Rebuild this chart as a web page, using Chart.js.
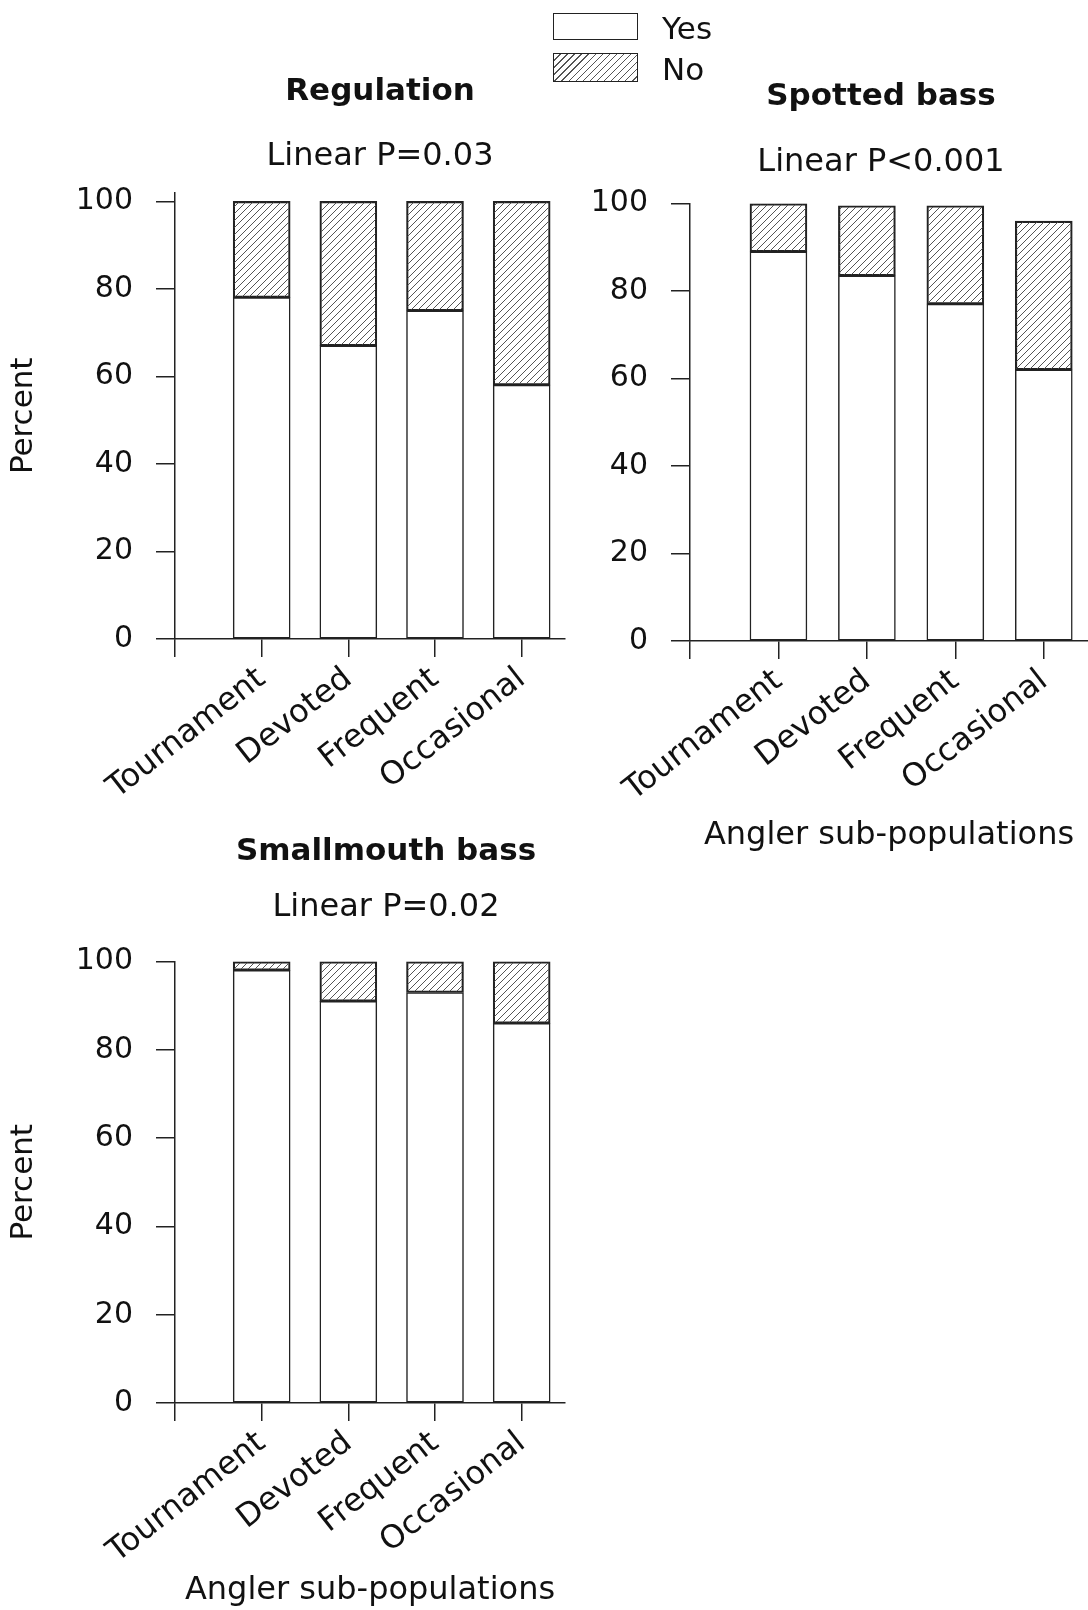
<!DOCTYPE html>
<html>
<head>
<meta charset="utf-8">
<script src="https://cdn.jsdelivr.net/npm/chart.js@4.4.1/dist/chart.umd.min.js"></script>
<style>
body{margin:0;background:#fff;width:1088px;height:1610px;position:relative;overflow:hidden;font-family:'DejaVu Sans',sans-serif;color:#111}
canvas{position:absolute}
#legend{position:absolute;left:553px;top:13px}
.key{position:absolute;left:0;width:85px;border:1.5px solid #222;box-sizing:border-box;background:#fff}
.key.no{background:repeating-linear-gradient(135deg,#fff 0 4px,#555 4px 5px)}
.lbl{position:absolute;left:109px;font-size:31px;line-height:31px;white-space:nowrap}
</style>
</head>
<body>
<canvas id="c1" width="580" height="800" style="left:0;top:0"></canvas>
<canvas id="c2" width="508" height="870" style="left:580px;top:0"></canvas>
<canvas id="c3" width="580" height="820" style="left:0;top:790px"></canvas>
<div id="legend">
  <div class="key" style="top:0;height:27px"></div>
  <div class="key no" style="top:40px;height:29px"></div>
  <div class="lbl" style="top:0">Yes</div>
  <div class="lbl" style="top:41px">No</div>
</div>
<script>
// Data
const categories = ['Tournament', 'Devoted', 'Frequent', 'Occasional'];
const regulationYes = [78, 67, 75, 58];
const regulationNo = [22, 33, 25, 42];
const spottedYes = [89, 83.5, 77, 62];
const spottedNo = [11, 16, 22.5, 34];
const smallmouthYes = [98, 91, 93, 86];
const smallmouthNo = [2, 9, 7, 14];
const yTicks = [0, 20, 40, 60, 80, 100];

Chart.defaults.font.family = "'DejaVu Sans', sans-serif";
Chart.defaults.color = '#111';

// diagonal hatch for the "No" part
function hatch() {
    const c = document.createElement('canvas');
    c.width = 7; c.height = 7;
    const g = c.getContext('2d');
    g.strokeStyle = '#555';
    g.lineWidth = 1;
    g.beginPath();
    g.moveTo(0, 7); g.lineTo(7, 0);
    g.moveTo(-1, 1); g.lineTo(1, -1);
    g.moveTo(6, 8); g.lineTo(8, 6);
    g.stroke();
    return g.createPattern(c, 'repeat');
}

// nudge the title + subtitle sideways a bit (they sit off-centre in the original)
const titleShift = {
    id: 'titleShift',
    afterLayout(chart, args, opts) {
        chart.boxes.filter(b => b.position === 'top').forEach(b => {
            b.left += opts.dx;
            b.right += opts.dx;
        });
    }
};

function makePanel(id, yes, no, o) {
    const pts = arr => arr.map((v, i) => ({x: i, y: v}));
    const bar = {borderColor: '#222', borderWidth: 1.5, borderSkipped: false, barThickness: 57};
    return new Chart(document.getElementById(id), {
        type: 'bar',
        data: {
            datasets: [
                Object.assign({label: 'Yes', data: pts(yes), backgroundColor: '#fff'}, bar),
                Object.assign({label: 'No', data: pts(no), backgroundColor: hatch()}, bar)
            ]
        },
        options: {
            responsive: false,
            animation: false,
            layout: {padding: {top: o.padTop, right: o.padRight, left: 0, bottom: 0}},
            plugins: {
                legend: {display: false},
                tooltip: {enabled: false},
                titleShift: {dx: o.dx},
                title: {display: true, fullSize: false, text: o.title, color: '#111',
                    font: {size: 31, weight: 'bold'}, padding: {top: 0, bottom: o.titleGap}},
                subtitle: {display: true, fullSize: false, text: o.test, color: '#111',
                    font: {size: 32}, padding: {top: 0, bottom: o.subGap}}
            },
            scales: {
                x: {
                    type: 'linear', stacked: true, min: -1, max: 3.5, offset: false,
                    afterBuildTicks: s => { s.ticks = [-1, 0, 1, 2, 3].map(v => ({value: v})); },
                    afterFit: s => { s.height = o.xHeight; },
                    ticks: {autoSkip: false, minRotation: 38, maxRotation: 38, padding: 3,
                        font: {size: 32}, callback: v => categories[v] ?? ''},
                    grid: {offset: false, drawOnChartArea: false, tickLength: 18, color: '#222', lineWidth: 1.5},
                    border: {color: '#222', width: 1.5},
                    title: {display: o.xTitle, text: 'Angler sub-populations', font: {size: 32},
                        padding: {top: 0, bottom: o.xTitlePad}}
                },
                y: {
                    stacked: true, min: 0, max: o.yMax,
                    afterBuildTicks: s => { s.ticks = yTicks.map(v => ({value: v})); },
                    afterFit: s => { s.width = o.yWidth; },
                    ticks: {padding: 23, font: {size: 30}},
                    grid: {drawOnChartArea: false, tickLength: 19, color: '#222', lineWidth: 1.5},
                    border: {color: '#222', width: 1.5},
                    title: {display: o.yTitle, text: 'Percent', font: {size: 31}, padding: {top: 5, bottom: 0}}
                }
            }
        },
        plugins: [titleShift]
    });
}

makePanel('c1', regulationYes, regulationNo, {
    title: 'Regulation', test: 'Linear P=0.03', padTop: 73, titleGap: 27, subGap: 17, padRight: 15, dx: 10,
    yMax: 102, yWidth: 175, xHeight: 161, yTitle: true, xTitle: false, xTitlePad: 0
});
makePanel('c2', spottedYes, spottedNo, {
    title: 'Spotted bass', test: 'Linear P<0.001', padTop: 78, titleGap: 28, subGap: 22, padRight: 0, dx: -8,
    yMax: 100, yWidth: 110, xHeight: 229, yTitle: false, xTitle: true, xTitlePad: 15
});
makePanel('c3', smallmouthYes, smallmouthNo, {
    title: 'Smallmouth bass', test: 'Linear P=0.02', padTop: 43, titleGap: 18, subGap: 35, padRight: 15, dx: 16,
    yMax: 100, yWidth: 175, xHeight: 207, yTitle: true, xTitle: true, xTitlePad: 0
});
</script>
</body>
</html>
